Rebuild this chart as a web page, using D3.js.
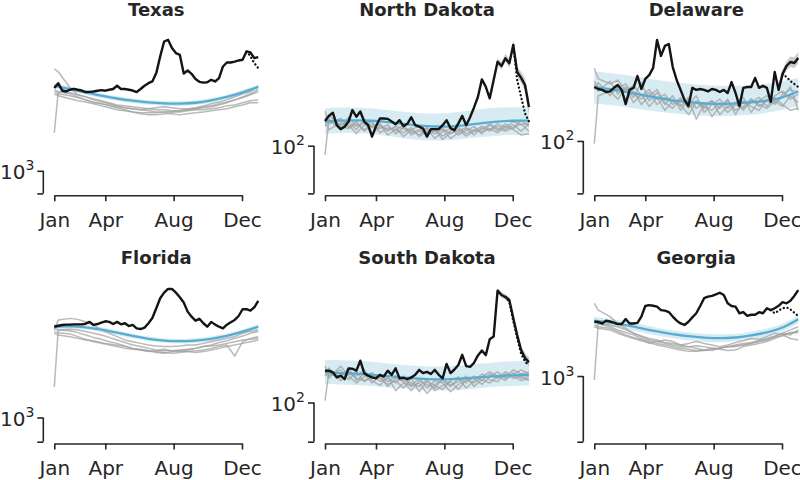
<!DOCTYPE html>
<html lang="en">

<head>
    <meta charset="UTF-8">
    <title>Weekly deaths by state, 2020</title>
    <style>
        body {
            margin: 0;
            background: #fff;
        }

        svg text {
            font-family: "DejaVu Sans", sans-serif;
            fill: #262626;
        }

        .axis path,
        .axis line {
            fill: none;
            stroke: #262626;
            stroke-width: 1.6px;
        }

        .axis text {
            font-size: 20px;
        }

        .title {
            font-size: 18px;
            font-weight: bold;
            text-anchor: middle;
        }
    </style>
</head>

<body>
    <script src="https://d3js.org/d3.v7.min.js"></script>
    <script>
        const width = 800;
        const height = 480;

        // weekly points through 2020
        const weeks = d3.range(53).map(i => d3.timeDay.offset(new Date(2020, 0, 1), 7 * i));
        const grayWeeks = [0, 1].concat(d3.range(4, 53, 2));
        const blueWeeks = d3.range(0, 53, 4);
        const monthTicks = [new Date(2020, 0, 1), new Date(2020, 3, 1), new Date(2020, 7, 1), new Date(2020, 11, 1)];

        // ---- Texas ----
        const texasObserved = [3560, 3840, 3430, 3380, 3470, 3520, 3470, 3430, 3350, 3360, 3380, 3420, 3450, 3420, 3470, 3510, 3690, 3510, 3510, 3470, 3430, 3350, 3510, 3690, 3840, 3940, 4480, 5790, 7280, 7470, 6580, 6090, 5930, 4450, 4660, 4430, 4090, 3920, 3870, 3890, 4040, 3940, 4150, 4960, 5270, 5270, 5350, 5440, 5500, 6240, 6150, 5640, 5730];
        const texasRaw = [6240, 5800, 5220, 4840];
        const texasExpected = [3690, 3510, 3330, 3160, 3030, 2930, 2850, 2810, 2800, 2830, 2940, 3100, 3330, 3620];
        const texasLower = [3560, 3390, 3210, 3050, 2920, 2830, 2750, 2710, 2700, 2730, 2840, 2990, 3210, 3490];
        const texasUpper = [3820, 3630, 3450, 3270, 3140, 3030, 2950, 2910, 2900, 2930, 3040, 3210, 3450, 3750];
        const texasPast = [
            [4790, 4570, 3580, 3210, 3110, 3020, 2930, 2840, 2750, 2710, 2670, 2630, 2590, 2550, 2550, 2510, 2510, 2550, 2590, 2630, 2670, 2750, 2840, 2970, 3110, 3260, 3470],
            [1790, 3360, 3310, 3210, 3110, 2970, 2880, 2800, 2710, 2630, 2590, 2550, 2510, 2470, 2470, 2470, 2510, 2550, 2590, 2670, 2710, 2800, 2880, 2970, 3070, 3210, 3360],
            [3360, 3260, 3160, 3070, 2970, 2840, 2800, 2710, 2630, 2550, 2470, 2440, 2440, 2440, 2470, 2470, 2470, 2510, 2550, 2550, 2590, 2630, 2710, 2750, 2840, 2930, 2970],
            [3470, 3360, 3260, 3110, 2970, 2880, 2800, 2750, 2670, 2630, 2590, 2550, 2590, 2630, 2670, 2630, 2590, 2590, 2630, 2710, 2800, 2880, 2970, 3110, 3260, 3360, 3690],
            [3260, 3160, 3020, 2930, 2880, 2800, 2710, 2630, 2550, 2510, 2470, 2400, 2360, 2360, 2400, 2400, 2360, 2400, 2440, 2470, 2510, 2550, 2590, 2670, 2750, 2840, 2840]
        ];

        // ---- North Dakota ----
        const ndObserved = [146, 158, 166, 137, 129, 134, 145, 173, 156, 169, 145, 137, 115, 135, 152, 152, 151, 145, 139, 148, 135, 140, 155, 137, 134, 130, 115, 129, 129, 129, 137, 148, 131, 127, 141, 158, 137, 155, 180, 212, 277, 247, 207, 274, 363, 340, 383, 354, 469, 310, 283, 254, 181];
        const ndRaw = [469, 274, 212, 164, 145];
        const ndHaloLow = [345, 322, 362, 333, 440, 290, 262, 232, 162];
        const ndHaloHigh = [385, 362, 410, 380, 505, 335, 310, 282, 205];
        const ndExpected = [145, 147, 148, 147, 144, 140, 136, 134, 134, 137, 142, 145, 147, 147];
        const ndLower = [120, 122, 122, 120, 116, 112, 109, 108, 109, 112, 114, 117, 118, 118];
        const ndUpper = [177, 180, 180, 177, 173, 168, 164, 164, 165, 170, 176, 180, 181, 180];
        const ndPast = [
            [87, 150, 138, 145, 128, 150, 132, 140, 125, 135, 130, 122, 128, 118, 125, 130, 120, 128, 116, 125, 135, 128, 140, 132, 145, 138, 142],
            [170, 140, 152, 132, 145, 125, 140, 130, 138, 120, 132, 126, 118, 130, 112, 124, 130, 118, 126, 134, 120, 138, 126, 140, 130, 148, 135],
            [135, 148, 128, 155, 135, 142, 120, 135, 128, 132, 115, 128, 135, 122, 128, 116, 125, 132, 120, 128, 124, 130, 122, 135, 128, 118, 120],
            [145, 128, 142, 138, 120, 138, 145, 122, 132, 126, 138, 118, 125, 132, 120, 128, 112, 122, 130, 118, 132, 125, 135, 128, 138, 125, 140],
            [150, 160, 135, 130, 140, 128, 135, 138, 118, 128, 122, 132, 115, 125, 128, 110, 122, 126, 132, 124, 128, 140, 130, 125, 132, 140, 125]
        ];

        // ---- Delaware ----
        const deObserved = [229, 222, 219, 212, 214, 226, 236, 219, 176, 219, 226, 271, 222, 259, 275, 307, 471, 369, 430, 443, 311, 255, 219, 188, 171, 226, 219, 222, 219, 214, 222, 219, 212, 219, 209, 247, 209, 171, 226, 229, 229, 263, 226, 233, 226, 182, 288, 219, 280, 316, 336, 331, 357];
        const deRaw = [280, 267, 251, 240, 229];
        const deHaloLow = [276, 207, 262, 296, 312, 305, 328];
        const deHaloHigh = [300, 232, 300, 340, 365, 362, 392];
        const deExpected = [229, 222, 212, 203, 194, 186, 181, 178, 176, 178, 181, 185, 194, 214];
        const deLower = [178, 174, 169, 162, 157, 153, 149, 147, 146, 147, 149, 154, 161, 170];
        const deUpper = [291, 284, 275, 265, 255, 247, 240, 236, 233, 233, 234, 240, 251, 263];
        const dePast = [
            [96, 200, 215, 190, 225, 180, 205, 170, 195, 160, 185, 175, 150, 180, 165, 185, 150, 170, 180, 160, 190, 170, 185, 195, 175, 160, 165],
            [305, 260, 240, 255, 215, 235, 200, 220, 190, 205, 175, 195, 165, 185, 170, 160, 180, 155, 175, 165, 180, 195, 170, 200, 215, 190, 205],
            [240, 215, 250, 205, 230, 195, 245, 185, 210, 175, 200, 160, 190, 140, 175, 185, 165, 190, 150, 185, 170, 160, 190, 175, 205, 220, 210],
            [220, 245, 200, 230, 190, 215, 175, 200, 220, 180, 165, 190, 175, 200, 155, 175, 190, 165, 180, 195, 155, 185, 200, 180, 195, 230, 160],
            [250, 230, 210, 225, 240, 205, 190, 210, 175, 195, 185, 170, 195, 165, 180, 145, 170, 185, 160, 170, 190, 175, 165, 185, 170, 200, 180]
        ];

        // ---- Florida ----
        const flObserved = [4030, 4090, 4140, 4160, 4160, 4180, 4180, 4180, 4220, 4340, 4140, 4200, 4290, 4380, 4340, 4200, 4340, 4180, 4250, 4070, 4140, 3930, 3890, 3970, 4250, 4610, 5350, 6240, 6800, 7190, 7190, 6800, 6340, 5840, 5080, 4700, 4420, 4550, 4250, 4030, 4340, 4160, 4030, 3930, 4160, 4320, 4470, 4750, 5270, 5270, 5160, 5430, 6000];
        const flExpected = [4030, 4060, 4010, 3870, 3680, 3490, 3340, 3250, 3220, 3250, 3340, 3490, 3730, 4030];
        const flLower = [3890, 3920, 3870, 3730, 3550, 3370, 3220, 3140, 3110, 3140, 3220, 3370, 3600, 3890];
        const flUpper = [4170, 4200, 4150, 4010, 3810, 3610, 3460, 3360, 3330, 3360, 3460, 3610, 3860, 4170];
        const flPast = [
            [3830, 4470, 4580, 4510, 4350, 4140, 3830, 3640, 3460, 3290, 3200, 3120, 3040, 3000, 2970, 2970, 3000, 3040, 3040, 3120, 3200, 3290, 3370, 3460, 3640, 3740, 3830],
            [1600, 3830, 3870, 3830, 3740, 3640, 3550, 3420, 3290, 3160, 3040, 2970, 2890, 2820, 2790, 2790, 2820, 2850, 2890, 2970, 3040, 3160, 3250, 3370, 3490, 3640, 3740],
            [3930, 3830, 3790, 3680, 3550, 3420, 3320, 3200, 3120, 3000, 2890, 2850, 2790, 2750, 2710, 2680, 2710, 2750, 2790, 2820, 2890, 2970, 3040, 2570, 3200, 3370, 3460],
            [3740, 3680, 3610, 3460, 3320, 3200, 3120, 3090, 3040, 2970, 2890, 2820, 2750, 2790, 2850, 2790, 2750, 2820, 2890, 2970, 3000, 3040, 3120, 3200, 3290, 3320, 3370],
            [3640, 3550, 3460, 3370, 3290, 3250, 3160, 3040, 2970, 2890, 2850, 2820, 2790, 2710, 2680, 2750, 2790, 2750, 2710, 2750, 2820, 2890, 2970, 3040, 3120, 3200, 3290]
        ];

        // ---- South Dakota ----
        const sdObserved = [163, 163, 159, 147, 151, 143, 169, 168, 163, 190, 157, 151, 147, 145, 153, 149, 163, 153, 169, 145, 146, 143, 147, 153, 165, 157, 160, 155, 165, 153, 145, 181, 157, 166, 178, 208, 175, 173, 184, 206, 222, 207, 264, 275, 557, 521, 505, 482, 366, 282, 224, 198, 186];
        const sdRaw = [505, 470, 350, 270, 212, 188, 176];
        const sdHaloLow = [265, 535, 500, 484, 460, 348, 267, 211, 186, 174];
        const sdHaloHigh = [285, 580, 545, 528, 505, 385, 298, 238, 212, 200];
        const sdExpected = [159, 157, 156, 153, 150, 147, 144, 142, 143, 145, 148, 150, 152, 153];
        const sdLower = [133, 132, 131, 129, 126, 124, 121, 120, 120, 122, 125, 128, 129, 130];
        const sdUpper = [192, 192, 190, 187, 182, 178, 175, 173, 175, 178, 182, 186, 189, 190];
        const sdPast = [
            [103, 160, 148, 170, 140, 155, 135, 150, 128, 145, 138, 120, 140, 132, 125, 145, 130, 138, 150, 128, 142, 135, 150, 140, 158, 145, 150],
            [175, 150, 165, 142, 160, 138, 150, 145, 132, 140, 125, 145, 118, 138, 130, 122, 140, 148, 135, 150, 140, 155, 145, 160, 150, 140, 145],
            [150, 170, 140, 155, 150, 165, 140, 130, 148, 120, 135, 130, 145, 125, 140, 135, 118, 132, 140, 145, 132, 148, 160, 145, 152, 165, 155],
            [160, 145, 175, 150, 135, 148, 158, 138, 145, 135, 150, 128, 135, 115, 132, 140, 128, 145, 125, 140, 155, 142, 138, 155, 145, 150, 140],
            [165, 155, 150, 162, 145, 140, 145, 152, 138, 150, 140, 135, 128, 142, 120, 130, 138, 122, 142, 135, 148, 160, 150, 148, 165, 155, 160]
        ];

        // ---- Georgia ----
        const gaObserved = [2300, 2290, 2240, 2340, 2310, 2270, 2220, 2220, 2400, 2240, 2240, 2260, 2490, 2930, 2970, 2940, 2900, 2750, 2730, 2670, 2490, 2340, 2240, 2190, 2300, 2460, 2620, 2930, 3300, 3380, 3420, 3500, 3590, 3470, 3050, 2930, 2900, 2620, 2670, 2520, 2560, 2560, 2660, 2620, 2830, 2750, 2830, 2940, 3110, 3050, 3180, 3420, 3740];
        const gaRaw = [2750, 2620, 2730, 2830, 2870, 2780, 2640, 2510];
        const gaExpected = [2340, 2270, 2190, 2080, 1980, 1900, 1840, 1800, 1780, 1800, 1860, 1950, 2080, 2390];
        const gaLower = [2200, 2130, 2060, 1960, 1860, 1790, 1730, 1690, 1670, 1690, 1750, 1830, 1960, 2250];
        const gaUpper = [2480, 2410, 2320, 2200, 2100, 2010, 1950, 1910, 1890, 1910, 1970, 2070, 2200, 2530];
        const gaPast = [
            [3050, 2750, 2490, 2240, 2080, 1930, 1830, 1740, 1700, 1650, 1610, 1570, 1570, 1590, 1570, 1530, 1530, 1570, 1590, 1610, 1650, 1700, 1740, 1830, 1930, 1880, 2030],
            [940, 2240, 2190, 2130, 2030, 1930, 1850, 1780, 1740, 1670, 1650, 1610, 1570, 1530, 1490, 1490, 1530, 1570, 1610, 1650, 1670, 1740, 1780, 1850, 1930, 2030, 2130],
            [2300, 2240, 2130, 2030, 1950, 1880, 1780, 1700, 1650, 1610, 1570, 1530, 1510, 1480, 1490, 1530, 1510, 1480, 1490, 1570, 1610, 1650, 1700, 1780, 1880, 1950, 1980],
            [2190, 2130, 2080, 1980, 1880, 1810, 1740, 1650, 1700, 1740, 1700, 1610, 1650, 1700, 1650, 1610, 1570, 1610, 1670, 1720, 1780, 1760, 1830, 1930, 1880, 1780, 1740],
            [2130, 2080, 2030, 1930, 1850, 1780, 1720, 1670, 1610, 1570, 1530, 1490, 1460, 1460, 1480, 1490, 1530, 1570, 1570, 1610, 1650, 1700, 1760, 1810, 1850, 1930, 1950]
        ];

        // y limits (log) and the labelled decade of each panel
        const yLimits = [[707, 9817], [48.1, 668], [44.7, 621], [690, 9579], [54.8, 761], [365, 5066]];
        const decades = [3, 2, 2, 3, 2, 3];

        const panels = [
            { name: 'Texas', obs: texasObserved, raw: texasRaw, rawStart: 49, exp: texasExpected, lo: texasLower, hi: texasUpper, past: texasPast },
            { name: 'North Dakota', obs: ndObserved, raw: ndRaw, rawStart: 48, haloStart: 44, haloLo: ndHaloLow, haloHi: ndHaloHigh, exp: ndExpected, lo: ndLower, hi: ndUpper, past: ndPast },
            { name: 'Delaware', obs: deObserved, raw: deRaw, rawStart: 48, haloStart: 46, haloLo: deHaloLow, haloHi: deHaloHigh, exp: deExpected, lo: deLower, hi: deUpper, past: dePast },
            { name: 'Florida', obs: flObserved, exp: flExpected, lo: flLower, hi: flUpper, past: flPast },
            { name: 'South Dakota', obs: sdObserved, raw: sdRaw, rawStart: 46, haloStart: 43, haloLo: sdHaloLow, haloHi: sdHaloHigh, exp: sdExpected, lo: sdLower, hi: sdUpper, past: sdPast },
            { name: 'Georgia', obs: gaObserved, raw: gaRaw, rawStart: 45, exp: gaExpected, lo: gaLower, hi: gaUpper, past: gaPast }
        ];

        // layout
        const colJan = [54.3, 325, 594.3];
        const janToDec = 187.7;
        const rowBottom = [193.4, 441.7];
        const plotHeight = 171.4;

        const svg = d3.select('body').append('svg').attr('width', width).attr('height', height);
        svg.append('rect').attr('width', width).attr('height', height).attr('fill', '#fff');

        panels.forEach(function (p, k) {
            const col = k % 3;
            const row = Math.floor(k / 3);
            const x0 = colJan[col];
            const bottom = rowBottom[row];

            const x = d3.scaleTime()
                .domain([monthTicks[0], monthTicks[3]])
                .range([x0, x0 + janToDec]);
            const y = d3.scaleLog()
                .domain(yLimits[k])
                .range([bottom, bottom - plotHeight]);

            const g = svg.append('g');

            // expected band
            const area = d3.area()
                .x((d, i) => x(weeks[blueWeeks[i]]))
                .y0((d, i) => y(p.lo[i]))
                .y1((d, i) => y(p.hi[i]))
                .curve(d3.curveBasis);
            g.append('path').datum(p.exp).attr('d', area)
                .attr('fill', '#a6d3e4').attr('fill-opacity', 0.45);

            // previous years
            const grayLine = d3.line()
                .x((d, i) => x(weeks[grayWeeks[i]]))
                .y(d => y(d));
            g.selectAll('.past').data(p.past).enter().append('path')
                .attr('class', 'past')
                .attr('d', grayLine)
                .attr('fill', 'none')
                .attr('stroke', '#a2a2a2')
                .attr('stroke-opacity', 0.75)
                .attr('stroke-width', 1.5)
                .attr('stroke-linejoin', 'round');

            // expected line
            const blueLine = d3.line()
                .x((d, i) => x(weeks[blueWeeks[i]]))
                .y(d => y(d))
                .curve(d3.curveBasis);
            g.append('path').datum(p.exp).attr('d', blueLine)
                .attr('fill', 'none').attr('stroke', '#58acd2').attr('stroke-width', 2.3);

            // uncertainty of the corrected 2020 counts
            if (p.haloLo) {
                const halo = d3.area()
                    .x((d, i) => x(weeks[p.haloStart + i]))
                    .y0((d, i) => y(p.haloLo[i]))
                    .y1((d, i) => y(p.haloHi[i]));
                g.append('path').datum(p.haloLo).attr('d', halo)
                    .attr('fill', '#8c8c8c').attr('fill-opacity', 0.45);
            }

            // reported (uncorrected) tail
            if (p.raw) {
                const rawLine = d3.line()
                    .x((d, i) => x(weeks[p.rawStart + i]))
                    .y(d => y(d));
                g.append('path').datum(p.raw).attr('d', rawLine)
                    .attr('fill', 'none').attr('stroke', '#111')
                    .attr('stroke-width', 2.3)
                    .attr('stroke-linecap', 'round')
                    .attr('stroke-dasharray', '0.1,3.8');
            }

            // 2020
            const obsLine = d3.line()
                .x((d, i) => x(weeks[i]))
                .y(d => y(d));
            g.append('path').datum(p.obs).attr('d', obsLine)
                .attr('fill', 'none').attr('stroke', '#141414')
                .attr('stroke-width', 2.4).attr('stroke-linejoin', 'round');

            // x axis (trimmed to first / last tick)
            g.append('g')
                .attr('class', 'axis')
                .attr('transform', 'translate(0,' + (bottom + 1.8) + ')')
                .call(d3.axisBottom(x)
                    .tickValues(monthTicks)
                    .tickFormat(d3.timeFormat('%b'))
                    .tickSize(6)
                    .tickSizeOuter(0)
                    .tickPadding(11.5));

            // y axis: spine from the lower limit to the labelled decade
            const spineX = x0 - 11;
            const topTick = Math.pow(10, decades[k]);
            const yAxis = g.append('g')
                .attr('class', 'axis')
                .attr('transform', 'translate(' + spineX + ',0)')
                .call(d3.axisLeft(y)
                    .tickValues([yLimits[k][0], topTick])
                    .tickFormat('')
                    .tickSize(6));
            yAxis.select('.domain').remove();
            yAxis.append('line')
                .attr('x1', 0).attr('x2', 0)
                .attr('y1', y(yLimits[k][0])).attr('y2', y(topTick));

            const label = g.append('text')
                .attr('x', spineX - 9)
                .attr('y', y(topTick) + 8.5)
                .attr('text-anchor', 'end')
                .style('font-size', '20px');
            label.append('tspan').text('10');
            label.append('tspan').text(decades[k])
                .attr('dy', -9)
                .style('font-size', '14px');

            // title
            g.append('text')
                .attr('class', 'title')
                .attr('x', x0 + 102)
                .attr('y', bottom - 177.6)
                .text(p.name);
        });
    </script>
</body>

</html>
